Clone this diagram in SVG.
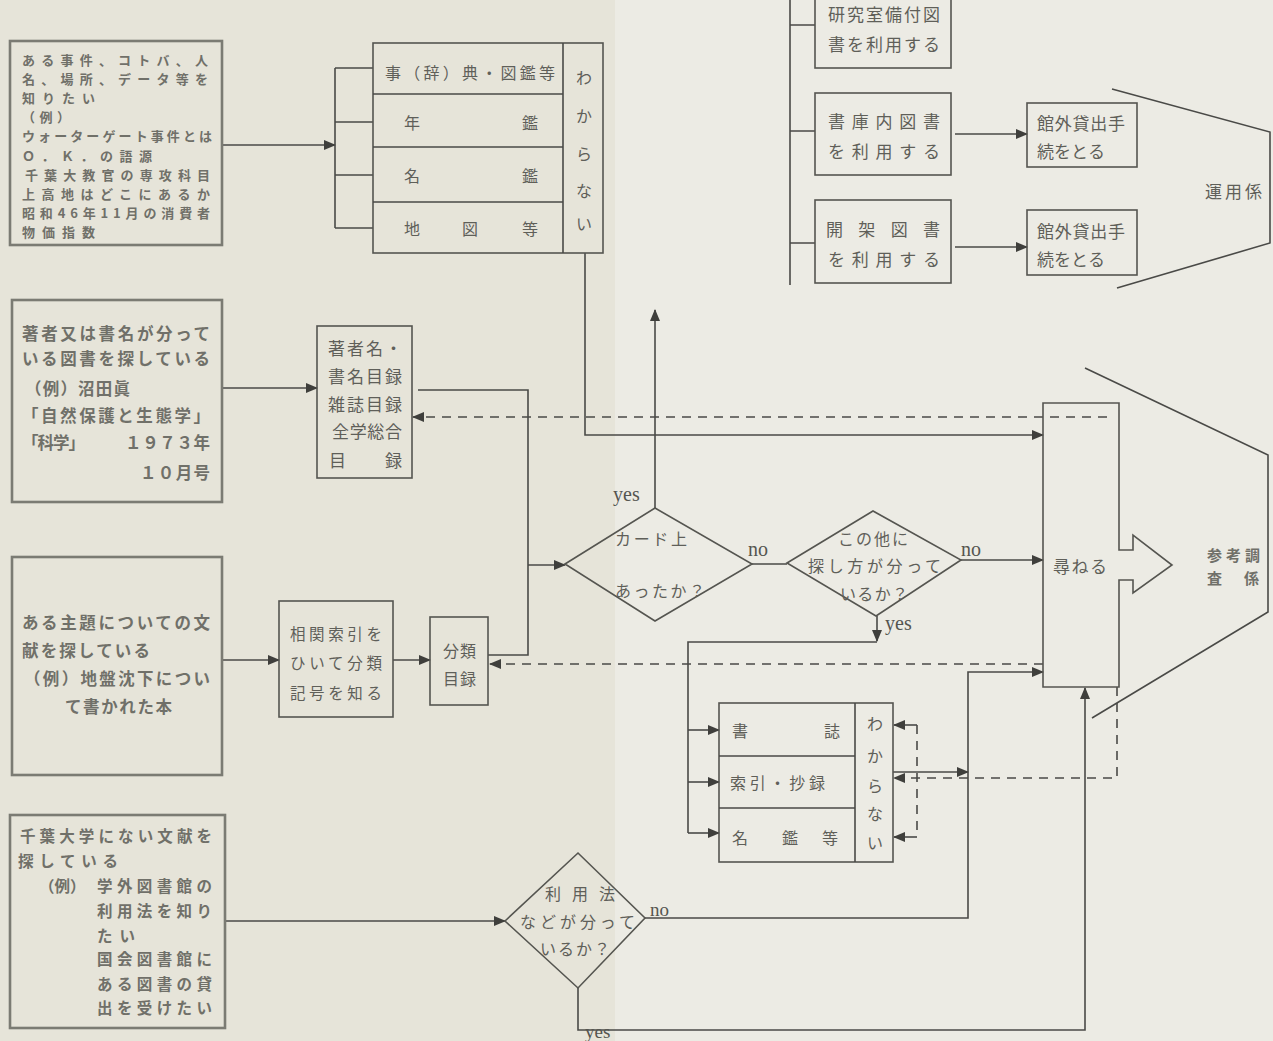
<svg xmlns="http://www.w3.org/2000/svg" width="1273" height="1041" viewBox="0 0 1273 1041" font-size="16">
<style>
.ln{stroke:#4a4a47;stroke-width:1.6;fill:none}
.dash{stroke-dasharray:9 7}
.bx{fill:none;stroke:#555550;stroke-width:1.6}
.lbx{fill:none;stroke:#7b7b73;stroke-width:2.6}
.t{font-family:"Noto Sans CJK JP","Noto Sans CJK SC",sans-serif;fill:#5f5f59;dominant-baseline:central}
.tb{font-weight:bold;fill:#707069}
.en{font-family:"Liberation Serif",serif;fill:#555550}
</style>
<defs>
<marker id="ah" viewBox="0 0 12 10" refX="11" refY="5" markerWidth="12" markerHeight="10" markerUnits="userSpaceOnUse" orient="auto"><path d="M0,0 L12,5 L0,10 z" fill="#3f3f3c"/></marker>
</defs>
<rect x="0" y="0" width="1273" height="1041" fill="#e6e4d9"/>
<rect x="615" y="0" width="658" height="1041" fill="#ecebe4"/>

<g id="connectors">
<path class="ln" d="M222,145 H335" marker-end="url(#ah)"/>
<path class="ln" d="M335,68 V228 M335,68 H373 M335,122 H373 M335,175 H373 M335,228 H373"/>
<path class="ln" d="M585,253 V435 H1043" marker-end="url(#ah)"/>
<path class="ln dash" d="M1107,417 H413" marker-end="url(#ah)"/>
<path class="ln" d="M222,388 H317" marker-end="url(#ah)"/>
<path class="ln" d="M418,390 H528 V655 H488"/>
<path class="ln" d="M528,565 H565" marker-end="url(#ah)"/>
<path class="ln" d="M222,660 H279" marker-end="url(#ah)"/>
<path class="ln" d="M393,660 H430" marker-end="url(#ah)"/>
<path class="ln dash" d="M1043,664 H490" marker-end="url(#ah)"/>
<path class="ln" d="M655,508 V310" marker-end="url(#ah)"/>
<path class="ln" d="M752,564 H787"/>
<path class="ln" d="M961,560 H1043" marker-end="url(#ah)"/>
<path class="ln" d="M877,616 V641" marker-end="url(#ah)"/>
<path class="ln" d="M877,642 H688 V833"/>
<path class="ln" d="M688,730 H719" marker-end="url(#ah)"/>
<path class="ln" d="M688,782 H719" marker-end="url(#ah)"/>
<path class="ln" d="M688,833 H719" marker-end="url(#ah)"/>
<path class="ln dash" d="M917,725 V837"/>
<path class="ln" d="M917,725 H894" marker-end="url(#ah)"/>
<path class="ln" d="M917,837 H894" marker-end="url(#ah)"/>
<path class="ln" d="M893,772 H968" marker-end="url(#ah)"/>
<path class="ln dash" d="M1117,687 V778 H894" marker-end="url(#ah)"/>
<path class="ln" d="M645,918 H968 V672 H1043" marker-end="url(#ah)"/>
<path class="ln" d="M225,921 H505" marker-end="url(#ah)"/>
<path class="ln" d="M578,988 V1030 H1085 V688" marker-end="url(#ah)"/>
<path class="ln" d="M790,0 V285 M790,25 H815 M790,131 H815 M790,243 H815"/>
<path class="ln" d="M955,134 H1027" marker-end="url(#ah)"/>
<path class="ln" d="M955,247 H1027" marker-end="url(#ah)"/>
</g>

<g id="box1">
<rect class="lbx" x="10" y="41" width="212" height="204"/>
<text class="t tb" font-size="13" x="22" y="59" textLength="186" lengthAdjust="spacing">ある事件、コトバ、人</text>
<text class="t tb" font-size="13" x="22" y="78.2" textLength="186" lengthAdjust="spacing">名、場所、データ等を</text>
<text class="t tb" font-size="13" x="22" y="97.4" textLength="73" lengthAdjust="spacing">知りたい</text>
<text class="t tb" font-size="13" x="22" y="116.6" textLength="48" lengthAdjust="spacing">（例）</text>
<text class="t tb" font-size="13" x="22" y="135.8" textLength="190" lengthAdjust="spacing">ウォーターゲート事件とは</text>
<text class="t tb" font-size="13" x="22" y="155" textLength="130" lengthAdjust="spacing">Ｏ．Ｋ．の語源</text>
<text class="t tb" font-size="13" x="25" y="174.2" textLength="185" lengthAdjust="spacing">千葉大教官の専攻科目</text>
<text class="t tb" font-size="13" x="22" y="193.4" textLength="188" lengthAdjust="spacing">上高地はどこにあるか</text>
<text class="t tb" font-size="13" x="22" y="212.6" textLength="188" lengthAdjust="spacing">昭和46年11月の消費者</text>
<text class="t tb" font-size="13" x="22" y="231.8" textLength="73" lengthAdjust="spacing">物価指数</text>
</g>

<g id="table1">
<rect class="bx" x="373" y="43" width="230" height="210"/>
<path class="ln" d="M563,43 V253 M373,94 H563 M373,147 H563 M373,202 H563"/>
<text class="t" x="385" y="72" textLength="170" lengthAdjust="spacing">事（辞）典・図鑑等</text>
<text class="t" x="404" y="122">年</text><text class="t" x="522" y="122">鑑</text>
<text class="t" x="404" y="175">名</text><text class="t" x="522" y="175">鑑</text>
<text class="t" x="404" y="228">地</text><text class="t" x="462" y="228">図</text><text class="t" x="522" y="228">等</text>
<text class="t" x="576" y="77">わ</text>
<text class="t" x="576" y="115">か</text>
<text class="t" x="576" y="153">ら</text>
<text class="t" x="576" y="190">な</text>
<text class="t" x="576" y="223">い</text>
</g>

<g id="box2">
<rect class="lbx" x="12" y="300" width="210" height="202"/>
<text class="t tb" font-size="16.5" x="22" y="333" textLength="188" lengthAdjust="spacing">著者又は書名が分って</text>
<text class="t tb" font-size="16.5" x="22" y="358" textLength="188" lengthAdjust="spacing">いる図書を探している</text>
<text class="t tb" font-size="16.5" x="25" y="388" textLength="105" lengthAdjust="spacing">（例）沼田眞</text>
<text class="t tb" font-size="16.5" x="22" y="415" textLength="188" lengthAdjust="spacing">「自然保護と生態学」</text>
<text class="t tb" font-size="16.5" x="22" y="442" textLength="63" lengthAdjust="spacing">「科学」</text>
<text class="t tb" font-size="16.5" x="125" y="442" textLength="85" lengthAdjust="spacing">１９７３年</text>
<text class="t tb" font-size="16.5" x="140" y="472" textLength="70" lengthAdjust="spacing">１０月号</text>
</g>

<g id="catalog1">
<rect class="bx" x="317" y="326" width="95" height="152"/>
<text class="t" font-size="17" x="328" y="347" textLength="74" lengthAdjust="spacing">著者名・</text>
<text class="t" font-size="17" x="328" y="375" textLength="74" lengthAdjust="spacing">書名目録</text>
<text class="t" font-size="17" x="328" y="403" textLength="74" lengthAdjust="spacing">雑誌目録</text>
<text class="t" font-size="17" x="332" y="430" textLength="70" lengthAdjust="spacing">全学総合</text>
<text class="t" font-size="17" x="329" y="459">目</text>
<text class="t" font-size="17" x="385" y="459">録</text>
</g>

<g id="box3">
<rect class="lbx" x="12" y="557" width="210" height="218"/>
<text class="t tb" font-size="16.5" x="22" y="622" textLength="188" lengthAdjust="spacing">ある主題についての文</text>
<text class="t tb" font-size="16.5" x="22" y="650" textLength="128" lengthAdjust="spacing">献を探している</text>
<text class="t tb" font-size="16.5" x="24" y="678" textLength="186" lengthAdjust="spacing">（例）地盤沈下につい</text>
<text class="t tb" font-size="16.5" x="65" y="706" textLength="107" lengthAdjust="spacing">て書かれた本</text>
</g>

<g id="index">
<rect class="bx" x="279" y="601" width="114" height="116"/>
<text class="t" font-size="15.5" x="290" y="633" textLength="92" lengthAdjust="spacing">相関索引を</text>
<text class="t" font-size="15.5" x="290" y="662" textLength="92" lengthAdjust="spacing">ひいて分類</text>
<text class="t" font-size="15.5" x="290" y="692" textLength="92" lengthAdjust="spacing">記号を知る</text>
</g>

<g id="classcat">
<rect class="bx" x="430" y="617" width="58" height="88"/>
<text class="t" x="443" y="650" textLength="33" lengthAdjust="spacing">分類</text>
<text class="t" x="443" y="678" textLength="33" lengthAdjust="spacing">目録</text>
</g>

<g id="diamond1">
<polygon class="bx" points="565,564 655,508 752,564 655,621"/>
<text class="t" x="615" y="538" textLength="72" lengthAdjust="spacing">カード上</text>
<text class="t" x="615" y="590" textLength="90" lengthAdjust="spacing">あったか？</text>
<text class="t en" font-size="20" x="613" y="494">yes</text>
<text class="t en" font-size="20" x="748" y="549">no</text>
</g>

<g id="diamond2">
<polygon class="bx" points="787,563 873,511 961,560 876,616"/>
<text class="t" x="838" y="538" textLength="70" lengthAdjust="spacing">この他に</text>
<text class="t" x="808" y="565" textLength="133" lengthAdjust="spacing">探し方が分って</text>
<text class="t" x="840" y="593" textLength="68" lengthAdjust="spacing">いるか？</text>
<text class="t en" font-size="20" x="961" y="549">no</text>
<text class="t en" font-size="20" x="885" y="623">yes</text>
</g>

<g id="table2">
<rect class="bx" x="719" y="703" width="174" height="159"/>
<path class="ln" d="M855,703 V862 M719,756 H855 M719,808 H855"/>
<text class="t" x="732" y="730">書</text><text class="t" x="824" y="730">誌</text>
<text class="t" x="730" y="782" textLength="95" lengthAdjust="spacing">索引・抄録</text>
<text class="t" x="732" y="837">名</text><text class="t" x="782" y="837">鑑</text><text class="t" x="822" y="837">等</text>
<text class="t" x="867" y="723">わ</text>
<text class="t" x="867" y="755">か</text>
<text class="t" x="867" y="785">ら</text>
<text class="t" x="867" y="813">な</text>
<text class="t" x="867" y="842">い</text>
</g>

<g id="box4">
<rect class="lbx" x="10" y="815" width="215" height="213"/>
<text class="t tb" font-size="15.5" x="20" y="835" textLength="192" lengthAdjust="spacing">千葉大学にない文献を</text>
<text class="t tb" font-size="15.5" x="18" y="860" textLength="100" lengthAdjust="spacing">探している</text>
<text class="t tb" font-size="15.5" x="39" y="885">（例）</text>
<text class="t tb" font-size="15.5" x="97" y="885" textLength="115" lengthAdjust="spacing">学外図書館の</text>
<text class="t tb" font-size="15.5" x="97" y="910" textLength="115" lengthAdjust="spacing">利用法を知り</text>
<text class="t tb" font-size="15.5" x="97" y="935" textLength="38" lengthAdjust="spacing">たい</text>
<text class="t tb" font-size="15.5" x="97" y="958" textLength="115" lengthAdjust="spacing">国会図書館に</text>
<text class="t tb" font-size="15.5" x="97" y="983" textLength="115" lengthAdjust="spacing">ある図書の貸</text>
<text class="t tb" font-size="15.5" x="97" y="1007" textLength="115" lengthAdjust="spacing">出を受けたい</text>
</g>

<g id="diamond3">
<polygon class="bx" points="505,921 578,853 645,918 578,988"/>
<text class="t" x="545" y="893" textLength="70" lengthAdjust="spacing">利用法</text>
<text class="t" x="520" y="921" textLength="115" lengthAdjust="spacing">などが分って</text>
<text class="t" x="540" y="948" textLength="70" lengthAdjust="spacing">いるか？</text>
<text class="t en" font-size="19" x="650" y="909">no</text>
<text class="t en" font-size="19" x="585" y="1031">yes</text>
</g>

<g id="lab">
<rect class="bx" x="815" y="-5" width="136" height="73"/>
<text class="t" font-size="17" x="828" y="13" textLength="112" lengthAdjust="spacing">研究室備付図</text>
<text class="t" font-size="17" x="828" y="43" textLength="112" lengthAdjust="spacing">書を利用する</text>
</g>
<g id="stack">
<rect class="bx" x="815" y="93" width="136" height="82"/>
<text class="t" font-size="17" x="828" y="120" textLength="112" lengthAdjust="spacing">書庫内図書</text>
<text class="t" font-size="17" x="828" y="150" textLength="112" lengthAdjust="spacing">を利用する</text>
</g>
<g id="open">
<rect class="bx" x="815" y="200" width="136" height="83"/>
<text class="t" font-size="17" x="826" y="228" textLength="114" lengthAdjust="spacing">開架図書</text>
<text class="t" font-size="17" x="828" y="258" textLength="112" lengthAdjust="spacing">を利用する</text>
</g>
<g id="loan1">
<rect class="bx" x="1027" y="103" width="110" height="64"/>
<text class="t" font-size="17" x="1037" y="122" textLength="88" lengthAdjust="spacing">館外貸出手</text>
<text class="t" font-size="17" x="1037" y="150" textLength="68" lengthAdjust="spacing">続をとる</text>
</g>
<g id="loan2">
<rect class="bx" x="1027" y="210" width="110" height="65"/>
<text class="t" font-size="17" x="1037" y="230" textLength="88" lengthAdjust="spacing">館外貸出手</text>
<text class="t" font-size="17" x="1037" y="258" textLength="68" lengthAdjust="spacing">続をとる</text>
</g>

<g id="unyo">
<polyline class="ln" points="1112,89 1270,132 1270,243 1117,288"/>
<text class="t" font-size="17" x="1205" y="190" textLength="57" lengthAdjust="spacing">運用係</text>
</g>

<g id="tazuneru">
<path class="bx" d="M1043,403 H1119 V550 H1133 V535 L1172,565 L1133,593 V580 H1119 V687 H1043 Z"/>
<text class="t" font-size="17" x="1053" y="565" textLength="54" lengthAdjust="spacing">尋ねる</text>
</g>

<g id="sanko">
<polyline class="ln" points="1085,368 1268,455 1268,612 1092,718"/>
<text class="t tb" font-size="15" x="1207" y="554" textLength="53" lengthAdjust="spacing">参考調</text>
<text class="t tb" font-size="15" x="1207" y="577">査</text>
<text class="t tb" font-size="15" x="1244" y="577">係</text>
</g>
</svg>
